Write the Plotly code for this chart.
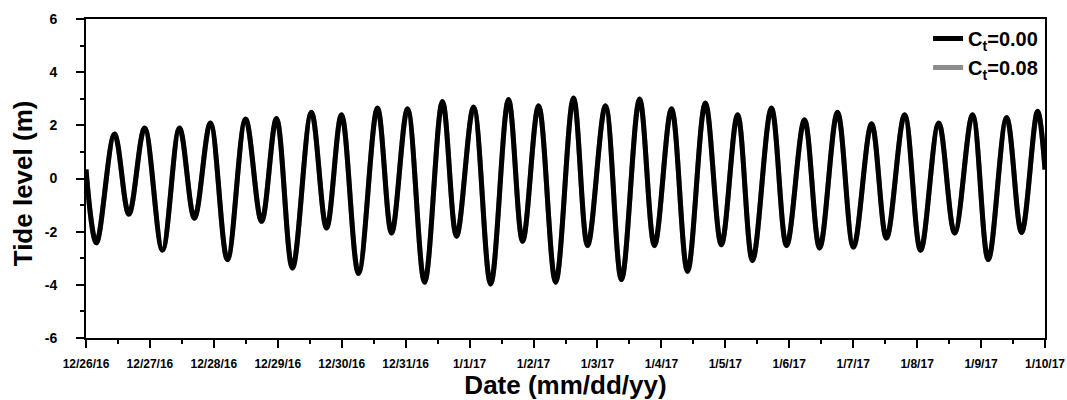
import plotly.graph_objects as go
import pandas as pd

# Hours since 2016-12-26 00:00 of read extrema, and tide level (m)
hours = [0.0, 3.9, 10.7, 16.1, 22.0, 28.7, 35.1, 40.7, 46.7, 53.1, 59.9, 65.9, 71.5, 77.5,
         84.6, 90.3, 95.9, 102.3, 109.4, 114.7, 120.7, 127.1, 133.8, 139.1, 145.5, 151.9,
         158.6, 163.9, 169.9, 176.3, 183.0, 188.3, 195.0, 201.0, 207.8, 213.4, 219.8, 225.8,
         232.5, 238.5, 244.6, 250.2, 257.3, 263.0, 269.7, 275.4, 282.1, 288.1, 294.9, 300.5,
         307.3, 313.3, 320.1, 326.1, 332.8, 338.7, 345.6, 351.2, 357.2, 360.0]
level_ct000 = [0.34, -2.42, 1.67, -1.34, 1.90, -2.69, 1.90, -1.49, 2.09, -3.05, 2.24, -1.61,
               2.26, -3.37, 2.49, -1.86, 2.40, -3.57, 2.65, -2.05, 2.62, -3.90, 2.90, -2.17,
               2.69, -3.97, 2.97, -2.36, 2.74, -3.90, 3.03, -2.52, 2.74, -3.80, 2.99, -2.52,
               2.62, -3.49, 2.84, -2.49, 2.40, -3.08, 2.65, -2.52, 2.21, -2.61, 2.49, -2.58,
               2.06, -2.24, 2.40, -2.70, 2.09, -2.05, 2.40, -3.05, 2.29, -2.03, 2.53, 0.34]
level_ct008 = [0.34, -2.43, 1.66, -1.35, 1.89, -2.70, 1.89, -1.50, 2.08, -3.06, 2.23, -1.62,
               2.25, -3.38, 2.48, -1.87, 2.39, -3.58, 2.64, -2.06, 2.61, -3.91, 2.89, -2.18,
               2.68, -3.98, 2.96, -2.37, 2.73, -3.91, 3.02, -2.53, 2.73, -3.81, 2.98, -2.53,
               2.61, -3.50, 2.83, -2.50, 2.39, -3.09, 2.64, -2.53, 2.20, -2.62, 2.48, -2.59,
               2.05, -2.25, 2.39, -2.71, 2.08, -2.06, 2.39, -3.06, 2.28, -2.04, 2.52, 0.34]

tick_dates = ["2016-12-26", "2016-12-27", "2016-12-28", "2016-12-29", "2016-12-30",
              "2016-12-31", "2017-01-01", "2017-01-02", "2017-01-03", "2017-01-04",
              "2017-01-05", "2017-01-06", "2017-01-07", "2017-01-08", "2017-01-09",
              "2017-01-10"]
tick_labels = ["12/26/16", "12/27/16", "12/28/16", "12/29/16", "12/30/16", "12/31/16",
               "1/1/17", "1/2/17", "1/3/17", "1/4/17", "1/5/17", "1/6/17", "1/7/17",
               "1/8/17", "1/9/17", "1/10/17"]
y_ticks = [-6, -4, -2, 0, 2, 4, 6]
y_tick_labels = ["-6", "-4", "-2", "0", "2", "4", "6"]

start = pd.Timestamp("2016-12-26 00:00")
times = [start + pd.Timedelta(hours=h) for h in hours]

FONT = "Arial, Liberation Sans, sans-serif"

fig = go.Figure()
fig.add_trace(go.Scatter(x=times, y=level_ct008, mode="lines", name="C<sub>t</sub>=0.08",
                         line=dict(color="#8c8c8c", width=5, shape="spline"), legendrank=2))
fig.add_trace(go.Scatter(x=times, y=level_ct000, mode="lines", name="C<sub>t</sub>=0.00",
                         line=dict(color="black", width=5, shape="spline"), legendrank=1))

fig.update_layout(
    width=1067, height=400,
    margin=dict(l=86, r=22, t=19, b=62),
    paper_bgcolor="white", plot_bgcolor="white",
    font=dict(family=FONT, color="black", weight="bold"),
    showlegend=True,
    legend=dict(x=0.998, y=1.0, xanchor="right", yanchor="top",
                bgcolor="rgba(0,0,0,0)", font=dict(size=20, family=FONT, weight="bold"),
                tracegroupgap=0),
    annotations=[dict(text="Tide level (m)", textangle=-90, xref="paper", yref="paper",
                      x=-63 / 959, y=0.485, xanchor="center", yanchor="middle",
                      showarrow=False, font=dict(size=26, family=FONT, weight="bold"))],
)
fig.update_xaxes(
    range=[start, pd.Timestamp("2017-01-10 00:00")],
    tickvals=tick_dates, ticktext=tick_labels,
    tickfont=dict(size=12, family=FONT, weight="bold"),
    ticks="outside", ticklen=8, tickwidth=2, tickcolor="black", ticklabelstandoff=6,
    ticklabeloverflow="allow",
    showline=True, linecolor="black", linewidth=2, mirror=True,
    showgrid=False, zeroline=False, automargin=False,
    minor=dict(dtick=12 * 3600 * 1000, tick0="2016-12-26", ticks="outside",
               ticklen=4, tickwidth=2, tickcolor="black", showgrid=False),
    title=dict(text="Date (mm/dd/yy)", font=dict(size=26, family=FONT, weight="bold"),
               standoff=3),
)
fig.update_yaxes(
    range=[-6, 6], tickmode="array", tickvals=y_ticks, ticktext=y_tick_labels,
    tickfont=dict(size=14, family=FONT, weight="bold"),
    ticks="outside", ticklen=8, tickwidth=2, tickcolor="black",
    ticklabelposition="outside", ticklabelstandoff=16,
    showline=True, linecolor="black", linewidth=2, mirror=True,
    showgrid=False, zeroline=False, automargin=False,
    minor=dict(dtick=1, tick0=-6, ticks="outside", ticklen=4, tickwidth=2,
               tickcolor="black", showgrid=False),
)

fig.write_html("out.html", config={"displayModeBar": False},
               post_script="document.body.style.margin='0px';document.body.style.overflow='hidden';")
